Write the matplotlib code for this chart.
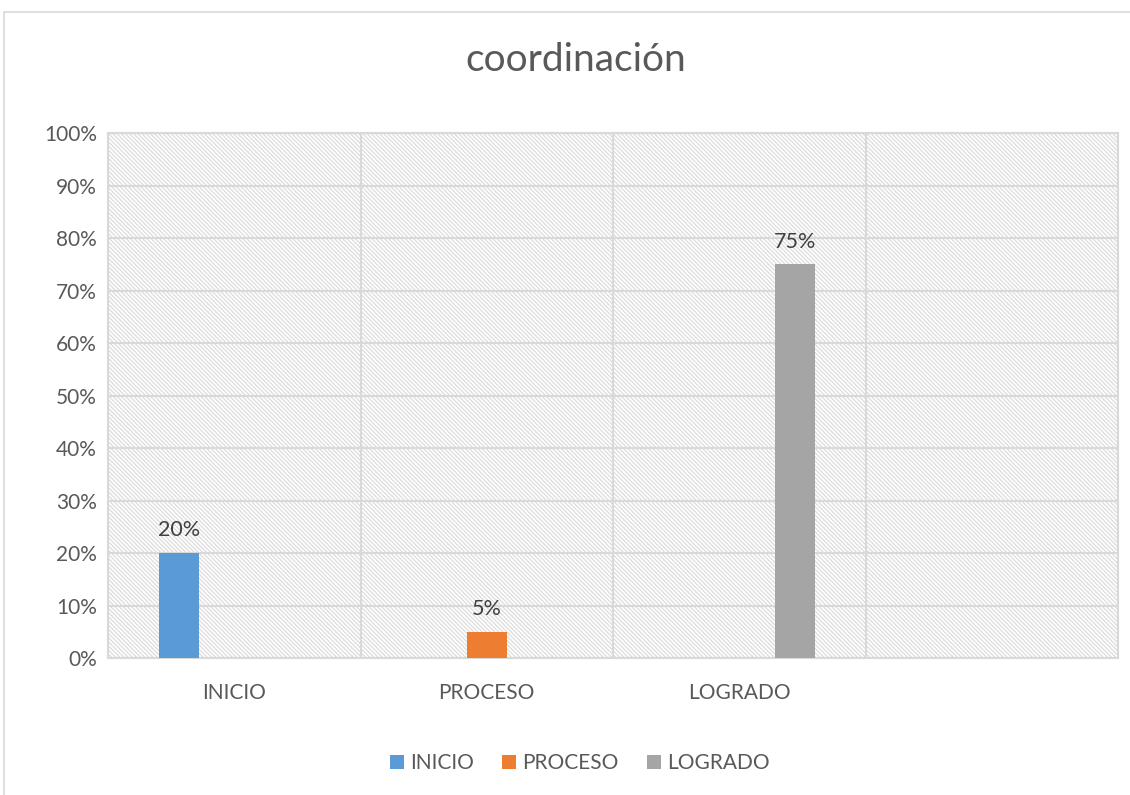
import matplotlib
matplotlib.use("Agg")
import matplotlib.pyplot as plt
from matplotlib.patches import Rectangle
from matplotlib.ticker import PercentFormatter

categories = ["INICIO", "PROCESO", "LOGRADO", ""]
series_names = ["INICIO", "PROCESO", "LOGRADO"]
series_values = {
    "INICIO":  [0.20, None, None, None],
    "PROCESO": [None, 0.05, None, None],
    "LOGRADO": [None, None, 0.75, None],
}
colors = ["#5b9bd5", "#ed7d31", "#a5a5a5"]
title = "coordinación"

plt.rcParams['font.family'] = ['Lato', 'DejaVu Sans']
plt.rcParams['hatch.color'] = '#dcdcdc'
plt.rcParams['hatch.linewidth'] = 0.9

fig = plt.figure(figsize=(11.3, 7.95), dpi=100)
# outer chart border
fig.patches.append(Rectangle((4/1130, -0.01), 1.02, 1 - 12/795 + 0.01, transform=fig.transFigure,
                             fill=False, edgecolor='#d9d9d9', linewidth=1.2))
ax = fig.add_axes([108/1130, 1 - 658/795, (1118-108)/1130, (658-133)/795])

ax.add_patch(Rectangle((0, 0), 1, 1, transform=ax.transAxes, facecolor='white',
                       hatch='\\' * 8, edgecolor='#dcdcdc', linewidth=0, zorder=0))

width = 0.158
offsets = [-0.22, 0.0, 0.22]
x = range(len(categories))
for name, col, off in zip(series_names, colors, offsets):
    vals = series_values[name]
    xs = [i + off for i, v in zip(x, vals) if v is not None]
    ys = [v for v in vals if v is not None]
    bars = ax.bar(xs, ys, width=width, color=col, zorder=3, label=name)
    for b, v in zip(bars, ys):
        ax.annotate(f"{v:.0%}", (b.get_x() + b.get_width()/2, v), xytext=(0, 9),
                    textcoords='offset points', ha='center', va='bottom',
                    fontsize=15.5, color='#404040', zorder=4)

ax.set_xlim(-0.5, len(categories) - 0.5)
ax.set_ylim(0, 1.0)
ax.set_yticks([i/10 for i in range(11)])
ax.yaxis.set_major_formatter(PercentFormatter(1.0, decimals=0))
ax.set_xticks(list(x))
ax.set_xticklabels(categories)
ax.set_xticks([0.5, 1.5, 2.5], minor=True)
ax.grid(axis='y', which='major', color='#d9d9d9', linewidth=1.5, zorder=1)
ax.grid(axis='x', which='minor', color='#d9d9d9', linewidth=1.5, zorder=1)
ax.grid(axis='x', which='major', visible=False)
ax.set_axisbelow(True)
for s in ax.spines.values():
    s.set_color('#d9d9d9')
    s.set_linewidth(1.5)
ax.tick_params(axis='both', which='both', length=0, labelsize=15, labelcolor='#595959')
ax.tick_params(axis='x', pad=18)
ax.tick_params(axis='y', pad=8)

fig.text(576/1130, 1 - 60/795, title, ha='center', va='center', fontsize=28, color='#595959')

fig.legend(loc='center', bbox_to_anchor=(580/1130, 1 - 763/795), ncol=3, frameon=False,
           fontsize=15, handlelength=0.67, handleheight=0.67, handletextpad=0.3,
           columnspacing=1.35, labelcolor='#595959')

fig.savefig("out.png", dpi=100)
